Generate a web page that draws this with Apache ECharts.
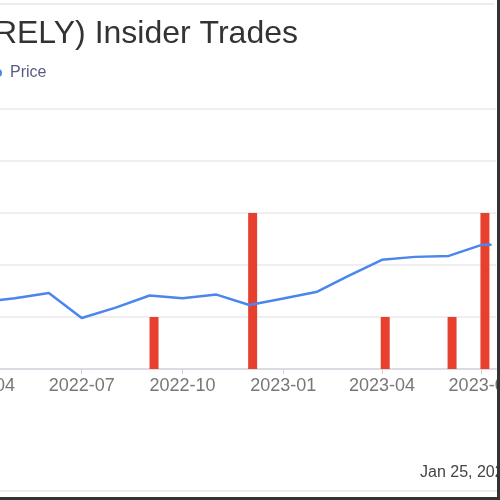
<!DOCTYPE html>
<html>
<head>
<meta charset="utf-8">
<script src="https://cdn.jsdelivr.net/npm/echarts@6/dist/echarts.min.js"></script>
<style>
	html, body { margin: 0; padding: 0; background: #fff; }
	body { width: 500px; height: 500px; overflow: hidden; position: relative; }
	#chart { position: absolute; left: -200px; top: 0; width: 700px; height: 500px; }
	.edge { position: absolute; }
</style>
</head>
<body>
<div id="chart"></div>
<div class="edge" style="left:0;top:3px;width:494px;height:2px;background:#ebebf0;"></div>
<div class="edge" style="left:0;top:490px;width:497px;height:2px;background:#ebebf0;"></div>
<div class="edge" style="left:497px;top:0;width:3px;height:500px;background:#333;"></div>
<div class="edge" style="left:0;top:497px;width:500px;height:3px;background:#333;"></div>
<script>
	// monthly closing price
	var priceDates = ['2022-04-01', '2022-05-01', '2022-06-01', '2022-07-01', '2022-08-01', '2022-09-01',
		'2022-10-01', '2022-11-01', '2022-12-01', '2023-01-01', '2023-02-01', '2023-03-01',
		'2023-04-01', '2023-05-01', '2023-06-01', '2023-07-01', '2023-07-10'];
	var priceValues = [10.3, 10.9, 11.7, 7.85, 9.45, 11.3, 10.9, 11.45, 9.85, 10.85, 11.9, 14.3,
		16.8, 17.25, 17.4, 19.1, 19.1];

	// insider trades (count per filing date)
	var tradeDates = ['2022-09-05', '2022-12-04', '2023-04-04', '2023-06-04', '2023-07-04'];
	var tradeCounts = [1, 3, 1, 1, 3];

	var titleText = 'Remitly Global Inc (RELY) Insider Trades';
	var stampText = 'Jan 25, 2024';

	function pad(n) { return ('0' + n).slice(-2); }

	var chart = echarts.init(document.getElementById('chart'), null, { renderer: 'canvas' });

	chart.setOption({
		animation: false,
		textStyle: { fontFamily: 'Arial, "Liberation Sans", sans-serif' },
		title: {
			text: titleText,
			right: 202,
			top: 18,
			padding: 0,
			textStyle: { fontSize: 32, fontWeight: 'normal', color: '#333' }
		},
		legend: {
			data: [{ name: 'Price', icon: 'circle' }],
			left: 194,
			top: 65,
			padding: 0,
			itemWidth: 14,
			itemHeight: 8,
			textStyle: { fontSize: 16, color: '#585c85' }
		},
		graphic: [{
			type: 'text',
			left: 620,
			top: 465,
			style: { text: stampText, fontSize: 16, fill: '#444', fontFamily: 'Arial, "Liberation Sans", sans-serif' }
		}],
		grid: { left: 177.5, right: 4, top: 109, bottom: 131, containLabel: false, outerBoundsMode: 'none' },
		xAxis: {
			type: 'time',
			min: '2022-04-01',
			max: '2023-07-10',
			minInterval: 95 * 86400000,
			maxInterval: 170 * 86400000,
			axisLine: { lineStyle: { color: '#dadbe3', width: 2 } },
			axisTick: { show: true, length: 5, lineStyle: { color: '#cfd0d8' } },
			splitLine: { show: false },
			axisLabel: {
				fontSize: 18,
				color: '#777',
				margin: 8,
				hideOverlap: false,
				formatter: function(v) { var d = new Date(v); return d.getFullYear() + '-' + pad(d.getMonth() + 1); }
			}
		},
		yAxis: [{
			type: 'value',
			min: 0,
			max: 40,
			interval: 8,
			position: 'left',
			axisLine: { show: false },
			axisTick: { show: false },
			axisLabel: { color: '#777' },
			splitLine: { lineStyle: { color: '#efeff2', width: 2 } }
		}, {
			type: 'value',
			min: 0,
			max: 5,
			interval: 1,
			position: 'right',
			axisLine: { show: false },
			axisTick: { show: false },
			axisLabel: { show: false },
			splitLine: { show: false }
		}],
		series: [{
			name: 'Insider Trades',
			type: 'bar',
			yAxisIndex: 1,
			barWidth: 9,
			itemStyle: { color: '#e8402f' },
			data: tradeDates.map(function(d, i) { return [d, tradeCounts[i]]; })
		}, {
			name: 'Price',
			type: 'line',
			yAxisIndex: 0,
			showSymbol: false,
			symbol: 'circle',
			lineStyle: { color: '#4a86ec', width: 2.5 },
			itemStyle: { color: '#4a86ec' },
			data: priceDates.map(function(d, i) { return [d, priceValues[i]]; })
		}]
	});
</script>
</body>
</html>
